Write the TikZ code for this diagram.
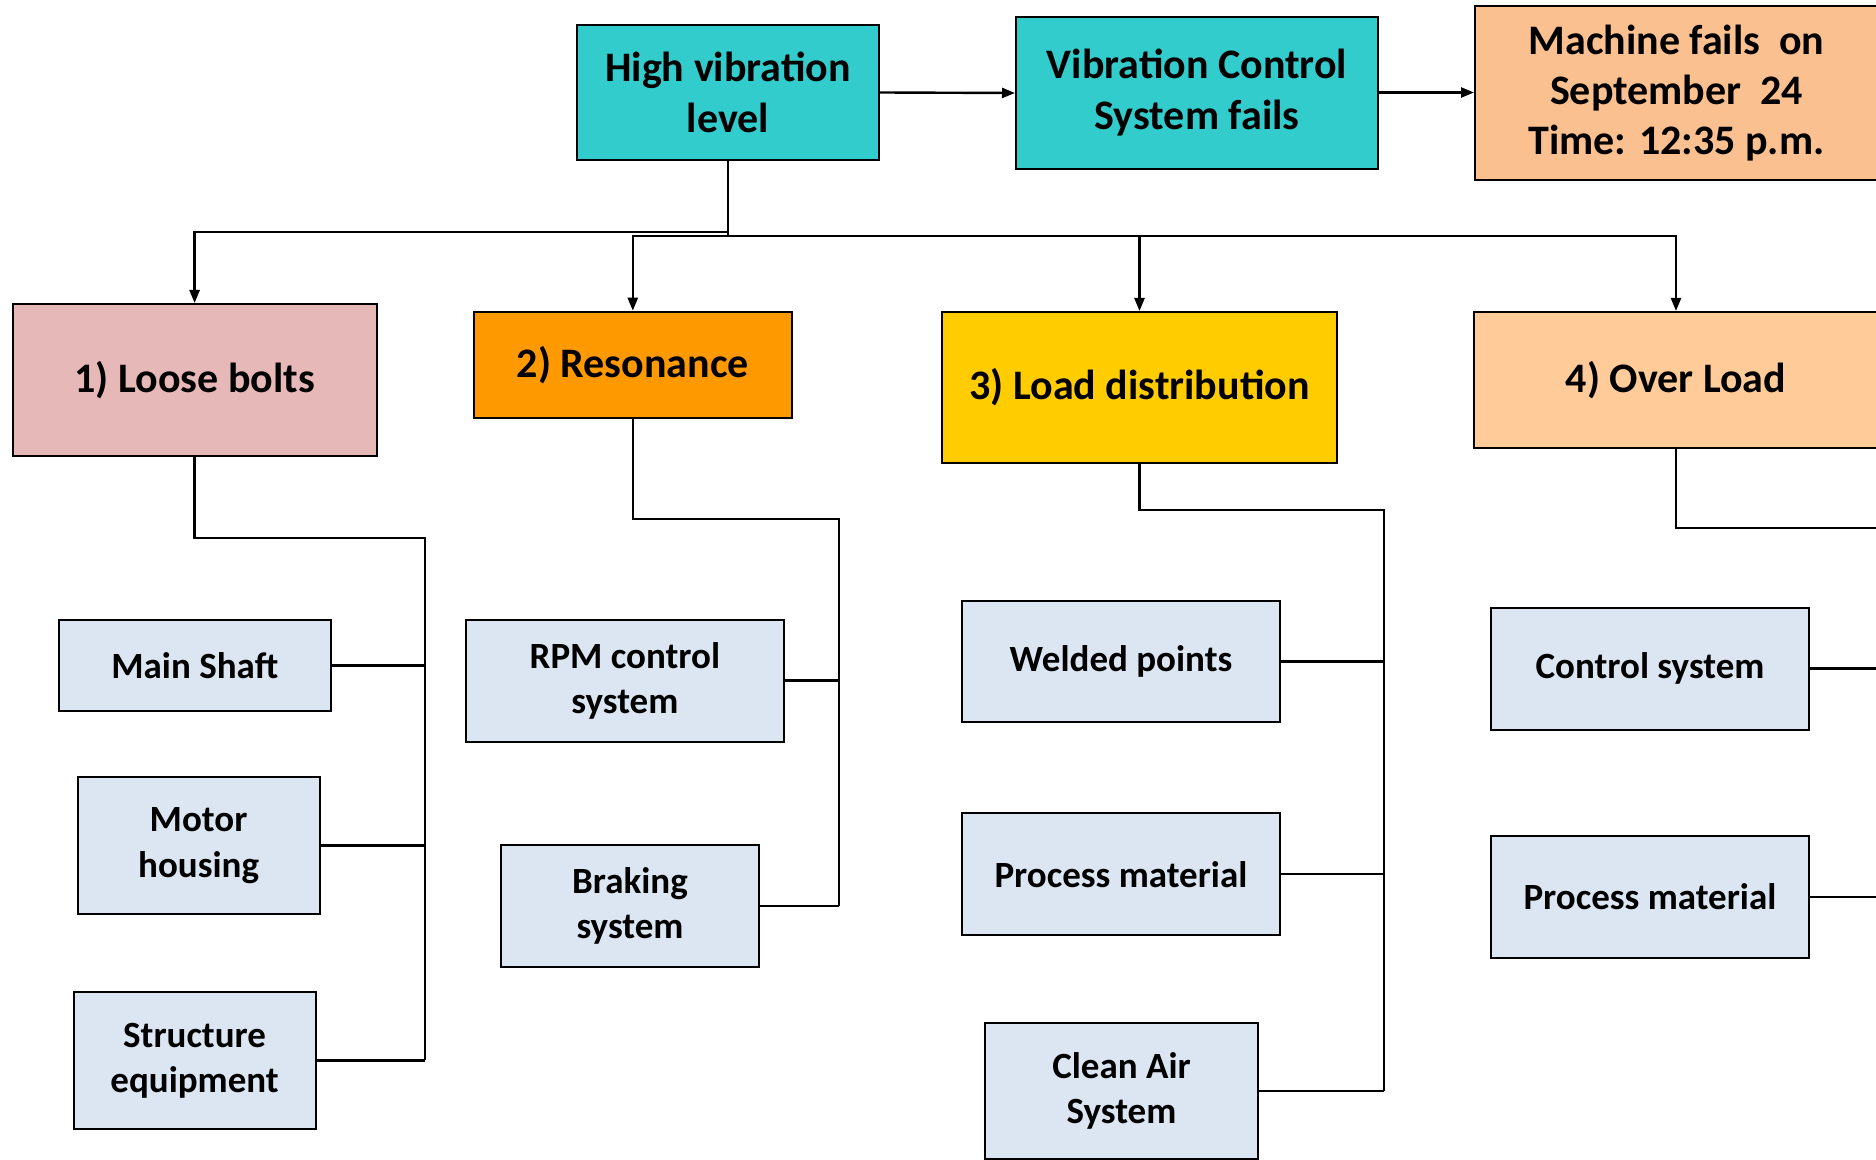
\documentclass[tikz,border=0pt]{standalone}
\usepackage{fontspec}
\setmainfont{Carlito}
\usetikzlibrary{arrows.meta}
\definecolor{tealbox}{HTML}{33CCCC}
\definecolor{peach}{HTML}{FAC090}
\definecolor{peachlight}{HTML}{FFCC99}
\definecolor{rosebox}{HTML}{E6B9B8}
\definecolor{orangebox}{HTML}{FF9900}
\definecolor{yellowbox}{HTML}{FFCC00}
\definecolor{subblue}{HTML}{DCE6F2}
\begin{document}
\begin{tikzpicture}[x=0.5pt,y=-0.5pt,
  box/.style={draw=black, line width=1pt, align=center, inner sep=0pt,
    font=\bfseries\fontsize{21}{25.5}\selectfont},
  sub/.style={box, fill=subblue, font=\bfseries\fontsize{18.5}{22.7}\selectfont},
  link/.style={line width=1.2pt},
  arr/.style={link, -{Triangle[length=6.5pt,width=5pt]}}]

\useasboundingbox (0,0) rectangle (1876,1160);
\fill[white] (0,0) rectangle (1876,1160);
\clip (0,0) rectangle (1876,1160);

% event chain
\node[box, fill=tealbox, minimum width=151pt, minimum height=67.5pt] (hv) at (728,92.5) {High vibration\\level};
\node[box, fill=tealbox, minimum width=181pt, minimum height=76pt] (vcs) at (1197,93) {Vibration Control\\System fails};
\node[box, fill=peach, minimum width=201.5pt, minimum height=87pt, font=\bfseries\fontsize{21}{25}\selectfont] (mf) at (1676.5,93) {Machine fails\ \ on\\September\ \ 24\\Time: 12:35 p.m.};

% causes
\node[box, fill=rosebox, minimum width=182pt, minimum height=76pt] (lb) at (194.6,380) {1) Loose bolts};
\node[box, fill=orangebox, minimum width=159.2pt, minimum height=53pt] (res) at (632.8,364.7) {2) Resonance};
\node[box, fill=yellowbox, minimum width=197.5pt, minimum height=75.5pt] (ld) at (1139.5,387.5) {3) Load distribution};
\node[box, fill=peachlight, minimum width=201.75pt, minimum height=68pt] (ol) at (1676,380) {4) Over Load};

% contributing items
\node[sub, minimum width=136.2pt, minimum height=45.85pt] (ms) at (194.8,665.5) {Main Shaft};
\node[sub, minimum width=121.1pt, minimum height=68.5pt] (mh) at (198.6,845.5) {Motor\\housing};
\node[sub, minimum width=121.1pt, minimum height=68.8pt] (se) at (194.6,1060.6) {Structure\\equipment};
\node[sub, minimum width=159.3pt, minimum height=61pt] (rpm) at (624.9,680.7) {RPM control\\system};
\node[sub, minimum width=129pt, minimum height=61pt] (br) at (630,906) {Braking\\system};
\node[sub, minimum width=159pt, minimum height=60.7pt] (wp) at (1121,661.7) {Welded points};
\node[sub, minimum width=159pt, minimum height=60.8pt] (pm3) at (1121,874.2) {Process material};
\node[sub, minimum width=136.5pt, minimum height=68pt] (ca) at (1121.5,1090.7) {Clean Air\\System};
\node[sub, minimum width=159.35pt, minimum height=61pt] (cs) at (1650,668.7) {Control system};
\node[sub, minimum width=159.35pt, minimum height=61.2pt] (pm4) at (1650,896.8) {Process material};

% chain arrows
\draw[arr] (hv.east) -- (vcs.west);
\draw[arr] (vcs.east |- hv.east) -- (mf.west |- hv.east);

% branching from the first event
\coordinate (jl) at (728,232);
\coordinate (jr) at (728,236);
\draw[link] (hv.south) -- (jr);
\draw[arr] (jl) -| (lb.north);
\draw[arr] (jr) -| (res.north);
\draw[arr] (jr) -| (ld.north);
\draw[arr] (jr) -| (ol.north);

% cause 1 bus
\coordinate (b1t) at (425,538);
\coordinate (b1b) at (425,1060);
\draw[link] (lb.south) |- (b1t) -- (b1b);
\draw[link] (ms.east) -- (ms.east -| b1t);
\draw[link] (mh.east) -- (mh.east -| b1t);
\draw[link] (se.east) -- (se.east -| b1t);

% cause 2 bus
\coordinate (b2t) at (839,519);
\coordinate (b2b) at (839,906);
\draw[link] (res.south) |- (b2t) -- (b2b);
\draw[link] (rpm.east) -- (rpm.east -| b2t);
\draw[link] (br.east) -- (br.east -| b2t);

% cause 3 bus
\coordinate (b3t) at (1384,510);
\coordinate (b3b) at (1384,1091);
\draw[link] (ld.south) |- (b3t) -- (b3b);
\draw[link] (wp.east) -- (wp.east -| b3t);
\draw[link] (pm3.east) -- (pm3.east -| b3t);
\draw[link] (ca.east) -- (ca.east -| b3t);

% cause 4 bus
\coordinate (b4t) at (1890,528);
\draw[link] (ol.south) |- (b4t);
\draw[link] (cs.east) -- (cs.east -| b4t);
\draw[link] (pm4.east) -- (pm4.east -| b4t);
\end{tikzpicture}
\end{document}
